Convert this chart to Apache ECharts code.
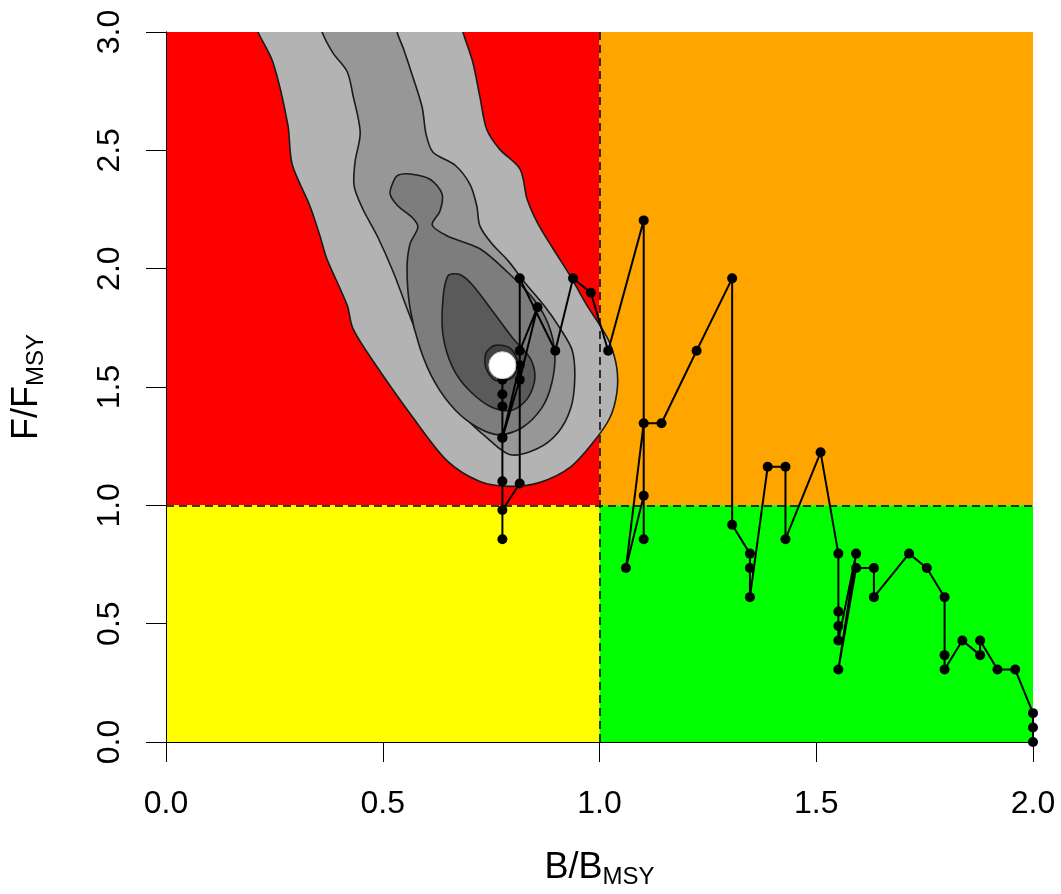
<!DOCTYPE html>
<html>
<head>
<meta charset="utf-8">
<script src="https://cdn.jsdelivr.net/npm/echarts@6/dist/echarts.min.js"></script>
<style>
  html, body { margin: 0; padding: 0; background: #fff; }
  #chart { width: 1061px; height: 894px; }
</style>
</head>
<body>
<div id="chart"></div>
<script>
// trajectory, first year -> last year
const bRatio = [2.000, 2.000, 2.000, 1.959, 1.918, 1.878, 1.878, 1.837, 1.796, 1.796, 1.796, 1.755, 1.714, 1.633, 1.633,
  1.592, 1.551, 1.592, 1.551, 1.551, 1.551, 1.551, 1.510, 1.429, 1.429, 1.388, 1.347, 1.347, 1.347, 1.306, 1.306,
  1.224, 1.143, 1.102, 1.061, 1.102, 1.102, 1.102, 1.020, 0.980, 0.939, 0.898, 0.816, 0.816, 0.776, 0.776, 0.776,
  0.776, 0.816, 0.857, 0.816, 0.816, 0.776, 0.776, 0.776, 0.776, 0.776]
const fRatio = [0.000, 0.061, 0.122, 0.306, 0.306, 0.429, 0.367, 0.429, 0.306, 0.367, 0.612, 0.735, 0.796, 0.612, 0.735,
  0.735, 0.306, 0.796, 0.429, 0.490, 0.551, 0.796, 1.224, 0.857, 1.163, 1.163, 0.612, 0.735, 0.796, 0.918, 1.959,
  1.653, 1.347, 1.347, 0.735, 1.041, 0.857, 2.204, 1.653, 1.898, 1.959, 1.653, 1.959, 1.092, 0.980, 0.857, 1.102,
  1.286, 1.531, 1.837, 1.653, 1.592, 1.286, 1.418, 1.469, 1.531, 1.592]

const bTicks = ['0.0', '0.5', '1.0', '1.5', '2.0']
const fTicks = ['0.0', '0.5', '1.0', '1.5', '2.0', '2.5', '3.0']

// reference points splitting the status zones
const bLimits = [0, 1, 2]
const fLimits = [0, 1, 3]

// density contours of the last year, outer to inner, [B, F]
const contour1 = [[0.195, 3.08], [0.212, 3.0], [0.247, 2.870], [0.281, 2.609], [0.291, 2.441], [0.332, 2.265], [0.355, 2.139],
  [0.371, 2.042], [0.418, 1.845], [0.431, 1.748], [0.478, 1.609], [0.570, 1.370], [0.648, 1.189], [0.724, 1.101],
  [0.794, 1.080], [0.863, 1.097], [0.932, 1.160], [0.985, 1.265], [1.024, 1.370], [1.040, 1.475], [1.040, 1.580],
  [1.024, 1.685], [1.001, 1.761], [0.971, 1.845], [0.932, 1.971], [0.893, 2.084], [0.856, 2.197], [0.833, 2.294],
  [0.817, 2.420], [0.770, 2.504], [0.740, 2.588], [0.724, 2.727], [0.708, 2.870], [0.685, 3.0], [0.675, 3.08]]
const contour2 = [[0.350, 3.08], [0.360, 3.0], [0.385, 2.912], [0.418, 2.832], [0.431, 2.735], [0.448, 2.576], [0.436, 2.450],
  [0.434, 2.349], [0.454, 2.252], [0.487, 2.139], [0.524, 1.987], [0.556, 1.832], [0.593, 1.664], [0.639, 1.508],
  [0.685, 1.382], [0.740, 1.286], [0.794, 1.214], [0.856, 1.239], [0.904, 1.307], [0.934, 1.412], [0.943, 1.538],
  [0.937, 1.655], [0.909, 1.748], [0.874, 1.840], [0.828, 1.941], [0.789, 2.034], [0.752, 2.105], [0.724, 2.181],
  [0.717, 2.265], [0.701, 2.357], [0.667, 2.437], [0.616, 2.492], [0.600, 2.567], [0.591, 2.681], [0.570, 2.807],
  [0.547, 2.933], [0.533, 3.0], [0.525, 3.08]]
const contour3 = [[0.524, 2.366], [0.535, 2.395], [0.563, 2.400], [0.609, 2.378], [0.637, 2.315], [0.632, 2.244], [0.614, 2.185],
  [0.648, 2.139], [0.724, 2.084], [0.787, 1.987], [0.847, 1.874], [0.881, 1.769], [0.897, 1.643], [0.890, 1.517],
  [0.867, 1.412], [0.821, 1.328], [0.770, 1.298], [0.720, 1.328], [0.667, 1.403], [0.621, 1.517], [0.586, 1.664],
  [0.563, 1.832], [0.556, 2.000], [0.563, 2.105], [0.581, 2.176], [0.567, 2.218], [0.535, 2.265], [0.517, 2.315]]
const contour4 = [[0.651, 1.971], [0.678, 1.975], [0.708, 1.929], [0.754, 1.819], [0.800, 1.706], [0.840, 1.622], [0.851, 1.538],
  [0.835, 1.454], [0.800, 1.403], [0.754, 1.412], [0.701, 1.483], [0.662, 1.580], [0.639, 1.718], [0.639, 1.874]]
const contour5 = [[0.738, 1.643], [0.759, 1.676], [0.794, 1.664], [0.812, 1.601], [0.798, 1.538], [0.759, 1.529], [0.738, 1.580]]

const contours = [contour1, contour2, contour3, contour4, contour5]
const contourColors = ['#b3b3b3', '#979797', '#7d7d7d', '#5a5a5a', '#424242']
const zoneColors = { overfished: '#ff0000', both: '#ffa500', overfishing: '#ffff00', healthy: '#00ff00' }

const chart = echarts.init(document.getElementById('chart'))
const font = '"Liberation Sans Narrow", "Liberation Sans", Arial, sans-serif'

function renderContour(params, api) {
  const cs = params.coordSys
  return {
    type: 'group',
    clipPath: { type: 'rect', shape: { x: cs.x, y: cs.y, width: cs.width, height: cs.height } },
    children: [{
      type: 'polygon',
      shape: { points: contours[params.dataIndex].map(p => api.coord(p)), smooth: 0.3 },
      style: { fill: contourColors[params.dataIndex], stroke: '#1a1a1a', lineWidth: 1.6 }
    }]
  }
}

const axisCommon = {
  type: 'value',
  interval: 0.5,
  z: 10,
  splitLine: { show: false },
  axisLine: { show: true, lineStyle: { color: '#000', width: 1 } },
  axisTick: { show: true, length: 20, lineStyle: { color: '#000', width: 1 } },
}
const frameAxis = {
  type: 'value', z: 10, splitLine: { show: false }, axisTick: { show: false }, axisLabel: { show: false },
  axisLine: { show: true, lineStyle: { color: '#000', width: 1 } },
}
const titleRich = {
  a: { fontSize: 36, fontFamily: font, color: '#000' },
  b: { fontSize: 24, fontFamily: font, color: '#000', padding: [17, 0, 0, 0] }
}

chart.setOption({
  animation: false,
  grid: { left: 166, right: 28, top: 32, bottom: 148 },
  xAxis: [{
    ...axisCommon, min: 0, max: 2,
    axisLabel: { color: '#000', fontSize: 32, fontFamily: font, margin: 46, formatter: v => bTicks[Math.round(v / 0.5)] },
    name: '{a|B/B}{b|MSY}', nameLocation: 'middle', nameGap: 106,
    nameTextStyle: { rich: titleRich }
  }, { ...frameAxis, min: 0, max: 2, position: 'top' }],
  yAxis: [{
    ...axisCommon, min: 0, max: 3,
    axisLabel: { color: '#000', fontSize: 32, fontFamily: font, margin: 40, rotate: 90, formatter: v => fTicks[Math.round(v / 0.5)] },
    name: '{a|F/F}{b|MSY}', nameLocation: 'middle', nameGap: 118, nameRotate: 90,
    nameTextStyle: { rich: titleRich }
  }, { ...frameAxis, min: 0, max: 3, position: 'right' }],
  series: [
    {
      type: 'line', data: [], z: 1, silent: true,
      markArea: {
        silent: true,
        itemStyle: { opacity: 1 },
        data: [
          [{ xAxis: bLimits[0], yAxis: fLimits[1], itemStyle: { color: zoneColors.overfished, opacity: 1 } }, { xAxis: bLimits[1], yAxis: fLimits[2] }],
          [{ xAxis: bLimits[1], yAxis: fLimits[1], itemStyle: { color: zoneColors.both, opacity: 1 } }, { xAxis: bLimits[2], yAxis: fLimits[2] }],
          [{ xAxis: bLimits[0], yAxis: fLimits[0], itemStyle: { color: zoneColors.overfishing, opacity: 1 } }, { xAxis: bLimits[1], yAxis: fLimits[1] }],
          [{ xAxis: bLimits[1], yAxis: fLimits[0], itemStyle: { color: zoneColors.healthy, opacity: 1 } }, { xAxis: bLimits[2], yAxis: fLimits[1] }],
        ]
      }
    },
    {
      type: 'custom', z: 2, silent: true,
      data: contours.map((c, i) => [i]),
      renderItem: renderContour
    },
    {
      type: 'line', data: [], z: 3, silent: true,
      markLine: {
        silent: true, symbol: 'none', label: { show: false },
        lineStyle: { color: '#000', width: 1.5, type: [8, 5] },
        data: [{ xAxis: bLimits[1] }, { yAxis: fLimits[1] }]
      }
    },
    {
      type: 'line', z: 4,
      data: bRatio.map((b, i) => [b, fRatio[i]]),
      symbol: 'circle', symbolSize: 10,
      lineStyle: { color: '#000', width: 2 },
      itemStyle: { color: '#000' },
    },
    {
      type: 'scatter', z: 5,
      data: [[bRatio[bRatio.length - 1], fRatio[fRatio.length - 1]]],
      symbolSize: 27,
      itemStyle: { color: '#fff', borderColor: '#ccc', borderWidth: 1, opacity: 1 }
    }
  ]
})
</script>
</body>
</html>
